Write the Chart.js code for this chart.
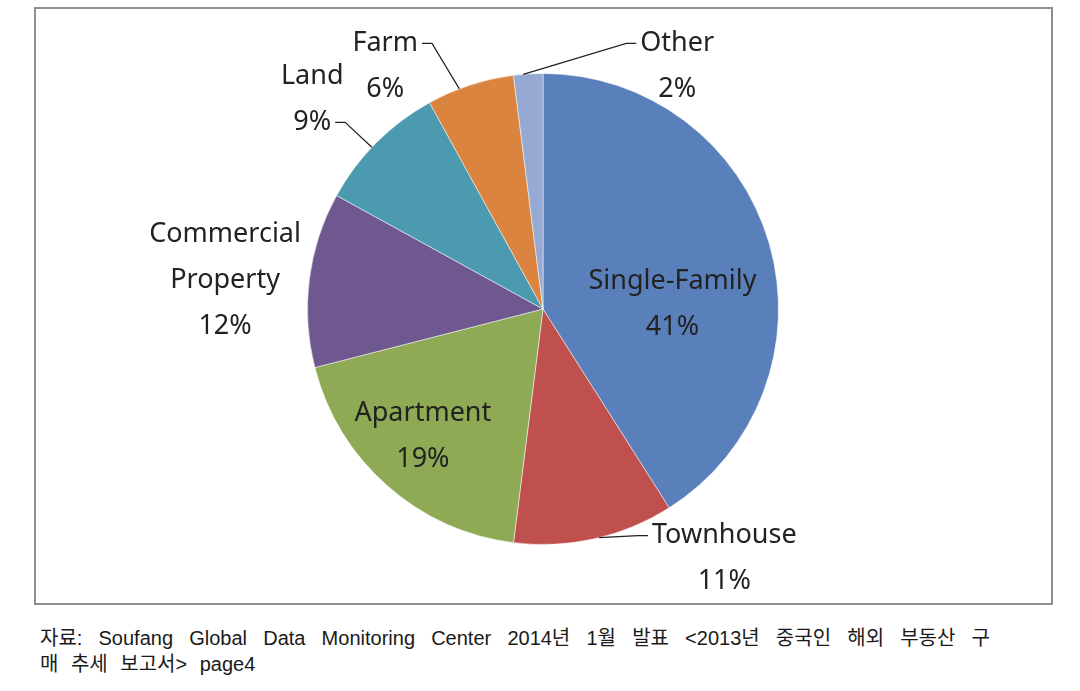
<!DOCTYPE html>
<html>
<head>
<meta charset="utf-8">
<script src="https://cdn.jsdelivr.net/npm/chart.js@4.4.1/dist/chart.umd.min.js"></script>
<style>
  body { margin: 0; background: #fff; width: 1080px; height: 691px; position: relative; overflow: hidden; }
  #box { position: absolute; left: 34px; top: 7px; width: 1015px; height: 594px; border: 2px solid #8e8e8e; }
  #box canvas { display: block; }
  .note { position: absolute; left: 40px; width: 950px; font-family: "Liberation Sans", "Noto Sans CJK KR", sans-serif; font-size: 20px; line-height: 26px; color: #1a1a1a; white-space: nowrap; }
  #note1 { top: 625px; text-align: justify; text-align-last: justify; white-space: normal; }
  #note2 { top: 651px; word-spacing: 7px; }
</style>
</head>
<body>
<div id="box"><canvas id="pie" width="1015" height="594"></canvas></div>
<div class="note" id="note1">자료: Soufang Global Data Monitoring Center 2014년 1월 발표 &lt;2013년 중국인 해외 부동산 구</div>
<div class="note" id="note2">매 추세 보고서&gt; page4</div>
<script>
var categories = ['Single-Family', 'Townhouse', 'Apartment', 'Commercial Property', 'Land', 'Farm', 'Other'];
var shares = [41, 11, 19, 12, 9, 6, 2];
var sliceColors = ['#5a80bc', '#c0504d', '#8eaa55', '#6f5790', '#4b9aaf', '#da843f', '#95a9d3'];

// label placement, in units of the pie radius from its centre
var labelSpots = [
    { dx: 0.55, dy: -0.02 },
    { dx: 0.77, dy: 1.06, leader: { line: 0, side: 'left', elbow: 10, at: 0.47 } },
    { dx: -0.51, dy: 0.54 },
    { dx: -1.35, dy: -0.12, wrap: true },
    { dx: -0.98, dy: -0.89, leader: { line: 1, side: 'right', elbow: 10, at: 0.45 } },
    { dx: -0.67, dy: -1.03, leader: { line: 0, side: 'right', elbow: 10, at: 0.37 } },
    { dx: 0.57, dy: -1.03, leader: { line: 0, side: 'left', elbow: 10, at: 0.33 } }
];

var pieLabels = {
    id: 'pieLabels',
    afterDatasetsDraw: function(chart) {
        var ctx = chart.ctx;
        var meta = chart.getDatasetMeta(0);
        var lineGap = 46;
        ctx.save();
        ctx.font = '27px "Noto Sans", sans-serif';
        ctx.fillStyle = '#222';
        ctx.strokeStyle = '#222';
        ctx.lineWidth = 1.2;
        ctx.textAlign = 'center';
        ctx.textBaseline = 'middle';
        meta.data.forEach(function(arc, i) {
            var p = arc.getProps(['x', 'y', 'outerRadius', 'startAngle', 'endAngle'], true);
            var spot = labelSpots[i];
            var name = categories[i];
            var lines = spot.wrap ? name.split(' ') : [name];
            lines.push(shares[i] + '%');
            var cx = p.x + spot.dx * p.outerRadius;
            var cy = p.y + spot.dy * p.outerRadius;
            var top = cy - (lines.length - 1) * lineGap / 2;
            lines.forEach(function(t, k) {
                ctx.fillText(t, cx, top + k * lineGap);
            });
            if (spot.leader) {
                var L = spot.leader;
                var ly = top + L.line * lineGap;
                var w = ctx.measureText(lines[L.line]).width;
                var sx = L.side === 'left' ? cx - w / 2 - 4 : cx + w / 2 + 4;
                var ex = L.side === 'left' ? sx - L.elbow : sx + L.elbow;
                var a = p.startAngle + (p.endAngle - p.startAngle) * L.at;
                var ax = p.x + Math.cos(a) * p.outerRadius;
                var ay = p.y + Math.sin(a) * p.outerRadius;
                ctx.beginPath();
                ctx.moveTo(sx, ly);
                ctx.lineTo(ex, ly);
                ctx.lineTo(ax, ay);
                ctx.stroke();
            }
        });
        ctx.restore();
    }
};

new Chart(document.getElementById('pie').getContext('2d'), {
    type: 'pie',
    data: {
        labels: categories,
        datasets: [{
            data: shares,
            backgroundColor: sliceColors,
            borderColor: 'rgba(255,255,255,0.5)',
            borderWidth: 1
        }]
    },
    options: {
        responsive: false,
        animation: false,
        layout: { padding: { left: 271, right: 272, top: 64, bottom: 58 } },
        plugins: {
            legend: { display: false },
            tooltip: { enabled: false }
        }
    },
    plugins: [pieLabels]
});
</script>
</body>
</html>
